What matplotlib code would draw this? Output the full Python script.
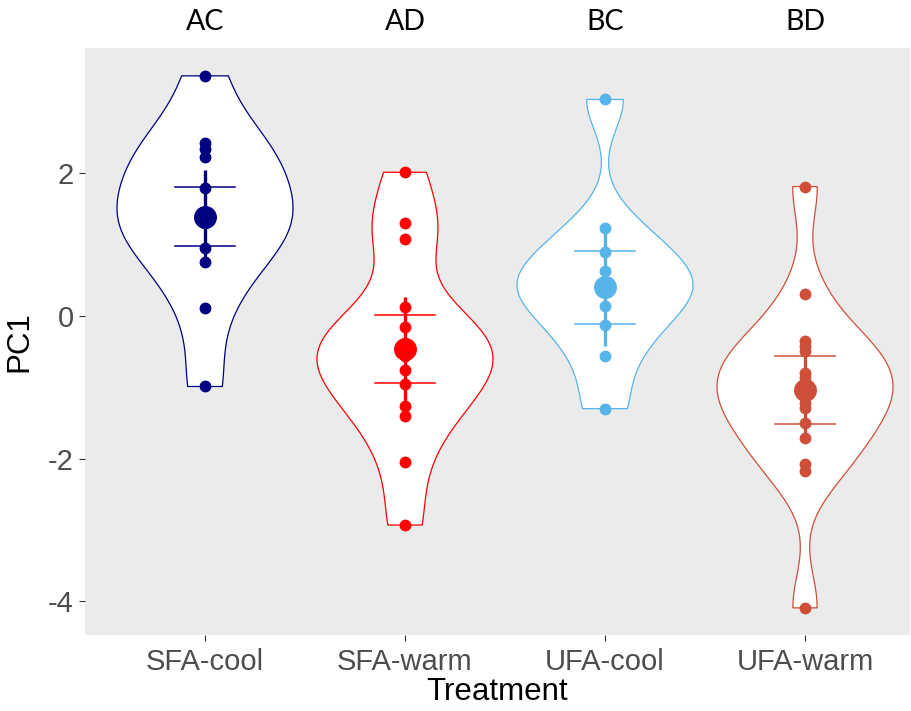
import numpy as np
import matplotlib.pyplot as plt

plt.rcParams['axes.unicode_minus'] = False

# PC1 scores per treatment
treatments = ['SFA-cool', 'SFA-warm', 'UFA-cool', 'UFA-warm']
letters = ['AC', 'AD', 'BC', 'BD']
colors = ['#000080', '#FF0000', '#56B4E9', '#CD4F39']

pc1 = [
    [3.36, 2.42, 2.33, 2.22, 1.79, 1.45, 1.38, 1.30, 0.95, 0.75, 0.11, -0.99],
    [2.01, 1.30, 1.07, 0.13, -0.15, -0.38, -0.47, -0.56, -0.76, -0.96, -1.27, -1.41, -2.05, -2.93],
    [3.03, 1.23, 0.89, 0.63, 0.46, 0.36, 0.14, -0.13, -0.56, -1.30],
    [1.81, 0.31, -0.36, -0.43, -0.50, -0.80, -0.87, -1.04, -1.22, -1.29, -1.50, -1.71,
     -2.08, -2.18, -4.09],
]

# summary stats: mean, crossbar half-range, vertical bar half-range
means = [1.39, -0.47, 0.40, -1.04]
se = [0.415, 0.475, 0.51, 0.48]
ci = [0.65, 0.74, 0.83, 0.70]

# bandwidth multiplier per group
adjust = [1.0, 1.0, 1.1, 1.1]


def bw_nrd0(x):
    x = np.asarray(x)
    sd = np.std(x, ddof=1)
    iqr = np.subtract(*np.percentile(x, [75, 25])) / 1.34
    lo = min(sd, iqr) if iqr > 0 else sd
    return 0.9 * lo * len(x) ** -0.2


def kde(x, grid, adj=1.0):
    x = np.asarray(x)
    bw = bw_nrd0(x) * adj
    z = (grid[:, None] - x[None, :]) / bw
    return np.exp(-0.5 * z ** 2).sum(axis=1) / (len(x) * bw * np.sqrt(2 * np.pi))


fig = plt.figure(figsize=(9.11, 7.11), dpi=100)
ax = fig.add_axes([85 / 911, 76 / 711, 825 / 911, 587 / 711])
ax.set_facecolor('#EBEBEB')

half_width = 0.44
for i, vals in enumerate(pc1):
    pos = i + 1
    col = colors[i]
    grid = np.linspace(min(vals), max(vals), 512)
    dens = kde(vals, grid, adjust[i])
    w = dens / dens.max() * half_width
    xs = np.concatenate([pos - w, (pos + w)[::-1], [pos - w[0]]])
    ys = np.concatenate([grid, grid[::-1], [grid[0]]])
    ax.fill(xs, ys, facecolor='white', edgecolor=col, linewidth=0.9, zorder=2)

    ax.plot([pos] * len(vals), vals, 'o', color=col, markersize=7.5, zorder=3)
    ax.plot([pos, pos], [means[i] - ci[i], means[i] + ci[i]], color=col,
            linewidth=2.4, zorder=4, solid_capstyle='butt')
    for yb in (means[i] - se[i], means[i] + se[i]):
        ax.plot([pos - 0.15, pos + 0.15], [yb, yb], color=col, linewidth=1.1, zorder=4)
    ax.plot(pos, means[i], 'o', color=col, markersize=15.5, zorder=5)

    ax.text(pos, 1.044, letters[i], transform=ax.get_xaxis_transform(),
            ha='center', va='center', fontsize=20.5, family='Lato', color='black')

ax.set_xlim(0.4, 4.525)
ax.set_ylim(-4.47, 3.75)
ax.set_xticks(range(1, 5))
ax.set_xticklabels(treatments)
ax.set_yticks([-4, -2, 0, 2])
ax.tick_params(axis='both', length=4, width=0.8, color='#333333',
               labelsize=21, labelcolor='#4D4D4D')
ax.tick_params(axis='x', pad=5)
ax.tick_params(axis='y', pad=4)
for lab in ax.get_xticklabels() + ax.get_yticklabels():
    lab.set_family('Liberation Sans')
for s in ax.spines.values():
    s.set_visible(False)

ax.set_xlabel('Treatment', fontsize=22.5, family='Liberation Sans', labelpad=1)
ax.set_ylabel('PC1', fontsize=22.5, family='Liberation Sans', labelpad=10)

fig.savefig('out.png', dpi=100)
